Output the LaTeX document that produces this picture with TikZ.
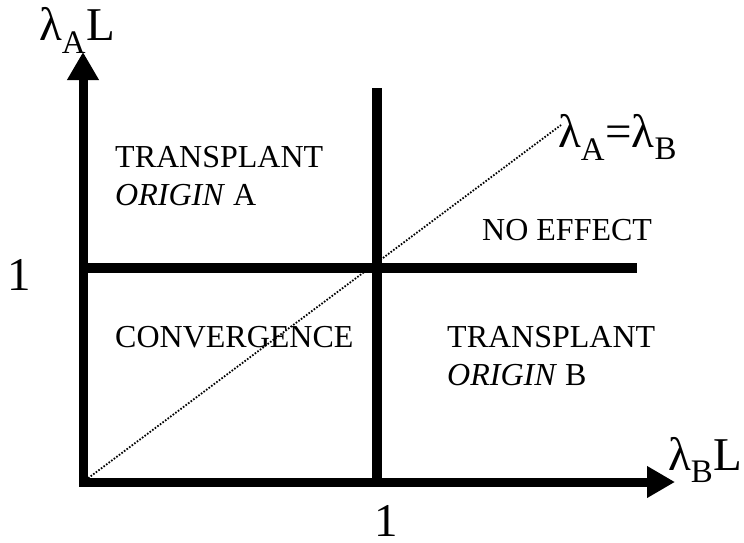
\documentclass[tikz,border=0pt]{standalone}
\usepackage{fontspec}
\setmainfont{Liberation Serif}
\usetikzlibrary{positioning, arrows.meta}

\begin{document}
\begin{tikzpicture}[x=1pt, y=-1pt,
      axis/.style={line width=9pt, line join=miter,
                   {Triangle[length=28pt, width=30pt]}-{Triangle[length=28pt, width=30pt]}},
      divider/.style={line width=9.5pt},
      diag/.style={line width=1.8pt, dash pattern=on 1.6pt off 1.6pt},
      region/.style={anchor=base west, inner sep=0pt, align=left,
                     font=\fontsize{32}{38}\selectfont},
      axlabel/.style={anchor=base west, inner sep=0pt,
                      font=\fontsize{47}{50}\selectfont}]
    \useasboundingbox (0,0) rectangle (744,542);
    \coordinate (ytop)    at (83,52);
    \coordinate (origin)  at (83,482);
    \coordinate (xend)    at (675,482);
    \coordinate (hleft)   at (83,268);
    \coordinate (hright)  at (637,268);
    \coordinate (vtop)    at (377,88);
    \coordinate (vbottom) at (377,482);
    \coordinate (diagtop) at (561,125);
    % axes and the two threshold lines
    \draw[axis]    (ytop) -- (origin) -- (xend);
    \draw[divider] (hleft) -- (hright);
    \draw[divider] (vtop) -- (vbottom);
    \draw[diag]    (origin) -- (diagtop);
    % axis labels
    \node[axlabel] (ylabel)    at (39,40)   {λ\textsubscript{A}L};
    \node[axlabel] (xlabel)    at (668,470) {λ\textsubscript{B}L};
    \node[axlabel] (diaglabel) at (558,147) {λ\textsubscript{A}=λ\textsubscript{B}};
    \node[axlabel] (yone)      at (7,290)   {1};
    \node[axlabel] (xone)      at (374,536) {1};
    % regions (base is the last line)
    \node[region] (originA) at (115,205) {TRANSPLANT\\\textit{ORIGIN} A};
    \node[region] (conv)    at (115,347) {CONVERGENCE};
    \node[region] (noeff)   at (482,240) {NO EFFECT};
    \node[region] (originB) at (447,385) {TRANSPLANT\\\textit{ORIGIN} B};
\end{tikzpicture}
\end{document}
